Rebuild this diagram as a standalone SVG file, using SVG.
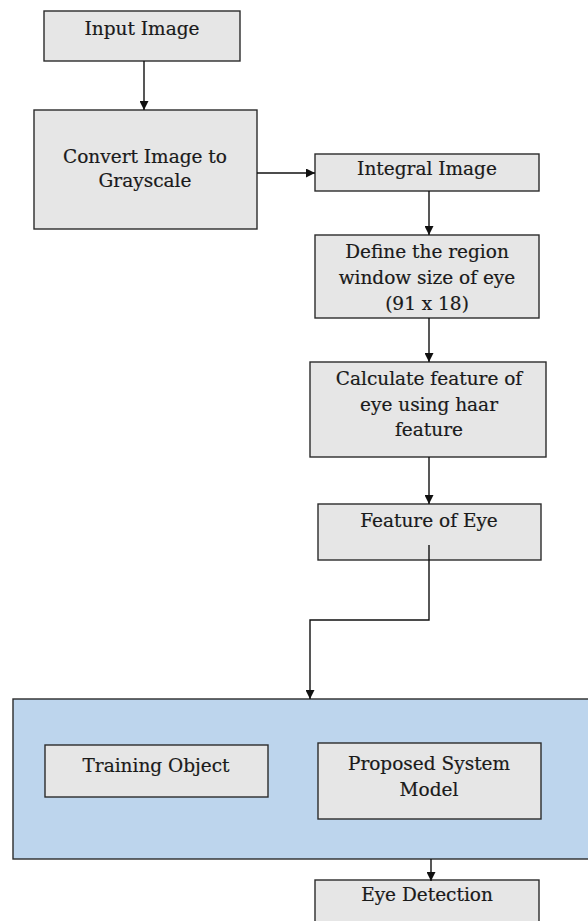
<svg xmlns="http://www.w3.org/2000/svg" width="588" height="921" viewBox="0 0 588 921">
<style>
.box{fill:#e6e6e6;stroke:#2b2b2b;stroke-width:1.4}
.grp{fill:#bdd5ed;stroke:#2b2b2b;stroke-width:1.4}
.t{font-family:"DejaVu Serif","Liberation Serif",serif;font-size:18.5px;fill:#1a1a1a;text-anchor:middle;stroke:#1a1a1a;stroke-width:0.2}
.c{fill:none;stroke:#111;stroke-width:1.4}
</style>
<defs>
<marker id="ah" viewBox="0 0 10 10" refX="10" refY="5" markerWidth="9" markerHeight="9" markerUnits="userSpaceOnUse" orient="auto">
<path d="M0,0 L10,5 L0,10 z" fill="#111"/>
</marker>
</defs>
<rect width="588" height="921" fill="#fff"/>
<g id="n-input"><rect class="box" x="44" y="11" width="196" height="50"/><text class="t" x="142" y="35">Input Image</text></g>
<g id="n-gray"><rect class="box" x="34" y="110" width="223" height="119"/><text class="t" x="145" y="163">Convert Image to</text><text class="t" x="145" y="187">Grayscale</text></g>
<g id="n-integral"><rect class="box" x="315" y="154" width="224" height="37"/><text class="t" x="427" y="175">Integral Image</text></g>
<g id="n-define"><rect class="box" x="315" y="235" width="224" height="83"/><text class="t" x="427" y="258">Define the region</text><text class="t" x="427" y="284">window size of eye</text><text class="t" x="427" y="310">(91 x 18)</text></g>
<g id="n-calc"><rect class="box" x="310" y="362" width="236" height="95"/><text class="t" x="429" y="385">Calculate feature of</text><text class="t" x="429" y="411">eye using haar</text><text class="t" x="429" y="436">feature</text></g>
<g id="n-feature"><rect class="box" x="318" y="504" width="223" height="56"/><text class="t" x="429" y="527">Feature of Eye</text></g>
<g id="n-system"><rect class="grp" x="13" y="699" width="578" height="160"/>
<g id="n-training"><rect class="box" x="45" y="745" width="223" height="52"/><text class="t" x="156" y="772">Training Object</text></g>
<g id="n-model"><rect class="box" x="318" y="743" width="223" height="76"/><text class="t" x="429" y="770">Proposed System</text><text class="t" x="429" y="796">Model</text></g>
</g>
<g id="n-detect"><rect class="box" x="315" y="880" width="224" height="50"/><text class="t" x="427" y="901">Eye Detection</text></g>
<g id="connectors">
<path class="c" d="M144,61 V110" marker-end="url(#ah)"/>
<path class="c" d="M257,173 H315" marker-end="url(#ah)"/>
<path class="c" d="M429,191 V235" marker-end="url(#ah)"/>
<path class="c" d="M429,318 V362" marker-end="url(#ah)"/>
<path class="c" d="M429,457 V504" marker-end="url(#ah)"/>
<path class="c" d="M429,545 V620 H310 V699" marker-end="url(#ah)"/>
<path class="c" d="M431,859 V881" marker-end="url(#ah)"/>
</g>
</svg>
